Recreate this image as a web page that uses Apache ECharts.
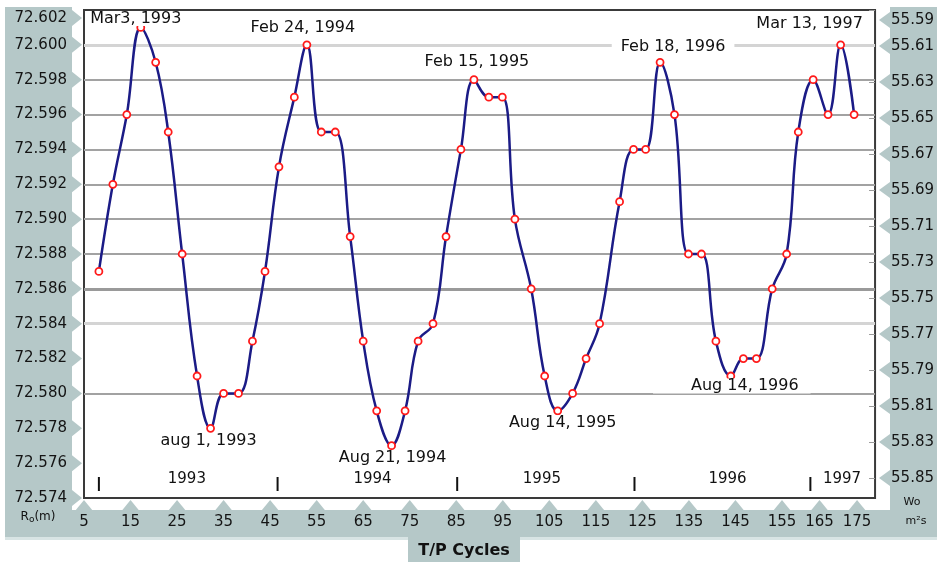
<!DOCTYPE html>
<html><head><meta charset="utf-8">
<script src="https://cdn.jsdelivr.net/npm/echarts@6/dist/echarts.min.js"></script>
<style>html,body{margin:0;padding:0;background:#fff}#c{width:937px;height:563px}</style>
</head><body><div id="c"></div>
<script>
// ---------- DATA ----------
const cycles = [8.2, 11.2, 14.2, 17.2, 20.4, 23.1, 26.1, 29.3, 32.2, 35.0, 38.2, 41.2, 43.9, 46.9, 50.2, 52.9, 56.0, 59.0, 62.2, 65.0,
  67.9, 71.1, 74.0, 76.8, 80.0, 82.8, 86.0, 88.8, 92.0, 94.9, 97.6, 101.1, 104.0, 106.8, 110.0, 112.9, 115.8, 120.1, 123.1, 125.7,
  128.8, 131.9, 134.9, 137.7, 140.8, 144.0, 146.7, 149.5, 152.9, 156.0, 158.5, 161.7, 164.9, 167.6, 170.5];
const r0 = [72.587, 72.592, 72.596, 72.601, 72.599, 72.595, 72.588, 72.581, 72.578, 72.580, 72.580, 72.583, 72.587, 72.593, 72.597, 72.600, 72.595, 72.595, 72.589, 72.583,
  72.579, 72.577, 72.579, 72.583, 72.584, 72.589, 72.594, 72.598, 72.597, 72.597, 72.590, 72.586, 72.581, 72.579, 72.580, 72.582, 72.584, 72.591, 72.594, 72.594,
  72.599, 72.596, 72.588, 72.588, 72.583, 72.581, 72.582, 72.582, 72.586, 72.588, 72.595, 72.598, 72.596, 72.600, 72.596];
const leftTicks = [72.574, 72.576, 72.578, 72.580, 72.582, 72.584, 72.586, 72.588, 72.590, 72.592, 72.594, 72.596, 72.598, 72.600, 72.602];
const rightTicks = [55.59, 55.61, 55.63, 55.65, 55.67, 55.69, 55.71, 55.73, 55.75, 55.77, 55.79, 55.81, 55.83, 55.85];
const xTicks = [5, 15, 25, 35, 45, 55, 65, 75, 85, 95, 105, 115, 125, 135, 145, 155, 165, 175];
const gridLineValues = [72.600, 72.598, 72.596, 72.594, 72.592, 72.590, 72.588, 72.586, 72.584, 72.580];
const annotTexts = ['Mar3, 1993', 'Feb 24, 1994', 'Feb 15, 1995', 'Feb 18, 1996', 'Mar 13, 1997',
  'aug 1, 1993', 'Aug 21, 1994', 'Aug 14, 1995', 'Aug 14, 1996'];
const annotAnchorIdx = [3, 15, 27, 40, 53, 8, 21, 33, 45];
const yearLabels = ['1993', '1994', '1995', '1996', '1997'];
const yearLabelCycles = [27.1, 67.0, 103.4, 143.3, 167.9];
const yearBoundCycles = [8.2, 46.6, 85.2, 123.3, 161.1];

// ---------- LAYOUT / STYLE ----------
const FF = 'DejaVu Sans';
const STRIP = '#b5c8c8';
const TXT = '#141414';
const annotLayout = [
  {offset: [-5, -9]}, {offset: [-4, -17]}, {offset: [3, -18]}, {offset: [13, -15], padding: [0, 9]}, {offset: [-31, -21]},
  {offset: [-2, 13]}, {offset: [1, 12]}, {offset: [5, 12]}, {offset: [1, 10], padding: [0, 12, 0, 38]}
];
const xLabelShift = {165: 9, 175: 18};
function gridStyle(v) {
  const k = v.toFixed(3);
  if (k === '72.600' || k === '72.584') return {color: '#d4d4d4', width: 3, type: 'solid'};
  if (k === '72.586') return {color: '#9a9a9a', width: 3, type: 'solid'};
  return {color: '#a2a2a2', width: 2, type: 'solid'};
}

const chart = echarts.init(document.getElementById('c'));
chart.setOption({
  animation: false,
  grid: {left: 84, top: 10, right: 60, bottom: 65, show: true, borderColor: '#3a3a3a', borderWidth: 2, backgroundColor: 'transparent'},
  xAxis: {
    type: 'value', min: 5, max: 175,
    axisLine: {show: false}, axisTick: {show: false}, splitLine: {show: false},
    axisLabel: {
      customValues: xTicks, margin: 17, fontFamily: FF, fontSize: 15, color: TXT,
      formatter: v => xLabelShift[v] ? '{s' + v + '|' + v + '}' : String(v),
      rich: {
        s165: {padding: [0, 18, 0, 0], fontFamily: FF, fontSize: 15, color: TXT},
        s175: {padding: [0, 36, 0, 0], fontFamily: FF, fontSize: 15, color: TXT}
      }
    }
  },
  yAxis: [{
    type: 'value', min: 72.574, max: 72.602, position: 'left',
    axisLine: {show: false}, axisTick: {show: false}, splitLine: {show: false},
    axisLabel: {
      customValues: leftTicks, margin: 17, fontFamily: FF, fontSize: 15, color: TXT,
      formatter: v => v > 72.6015 ? '{t|' + v.toFixed(3) + '}' : v.toFixed(3),
      rich: {t: {padding: [16, 0, 0, 0], fontFamily: FF, fontSize: 15, color: TXT}}
    }
  }, {
    type: 'value', min: 55.59, max: 55.8611, inverse: true, position: 'right',
    axisLine: {show: false}, splitLine: {show: false},
    axisTick: {show: true, inside: true, length: 6, customValues: rightTicks, lineStyle: {color: '#9a9a9a', width: 1}},
    axisLabel: {
      customValues: rightTicks, margin: 16, fontFamily: FF, fontSize: 15, color: TXT,
      formatter: v => v < 55.595 ? '{t|' + v.toFixed(2) + '}' : v.toFixed(2),
      rich: {t: {padding: [20, 0, 0, 0], fontFamily: FF, fontSize: 15, color: TXT}}
    }
  }],
  series: [{
    type: 'line', yAxisIndex: 0, z: 3,
    data: cycles.map((c, i) => [c, r0[i]]),
    smooth: 0.4, symbol: 'circle', symbolSize: 7, showAllSymbol: true,
    lineStyle: {color: '#1b1b86', width: 2.5},
    itemStyle: {color: '#ffffff', borderColor: '#ff1a1a', borderWidth: 1.8},
    emphasis: {disabled: true},
    markLine: {
      silent: true, symbol: 'none', z: 1, animation: false, precision: 4, label: {show: false},
      data: gridLineValues.map(v => ({yAxis: v, lineStyle: gridStyle(v)}))
    },
    markPoint: {
      silent: true, z: 6, symbol: 'circle', symbolSize: 0, animation: false,
      label: {show: true, position: 'inside', formatter: '{b}', fontFamily: FF, fontSize: 16, color: '#111',
        backgroundColor: '#ffffff', lineHeight: 15},
      data: annotTexts.map((t, i) => ({
        name: t,
        coord: [cycles[annotAnchorIdx[i]], r0[annotAnchorIdx[i]]],
        label: {offset: annotLayout[i].offset, padding: annotLayout[i].padding || [0, 2]}
      }))
    }
  }]
});

// ---------- DECORATION (strips, pointers, texts) ----------
const els = [];
els.push({type: 'rect', shape: {x: 5, y: 7, width: 67, height: 530}, style: {fill: STRIP}, z: 0});
els.push({type: 'rect', shape: {x: 890, y: 7, width: 47, height: 530}, style: {fill: STRIP}, z: 0});
els.push({type: 'rect', shape: {x: 5, y: 510, width: 932, height: 27}, style: {fill: STRIP}, z: 0});
els.push({type: 'rect', shape: {x: 5, y: 537, width: 932, height: 3}, style: {fill: '#d8e4e4'}, z: 0});
els.push({type: 'rect', shape: {x: 408, y: 537, width: 112, height: 25}, style: {fill: STRIP}, z: 0});
leftTicks.forEach(v => {
  const y = Math.max(chart.convertToPixel({yAxisIndex: 0}, v), 18);
  els.push({type: 'polygon', shape: {points: [[72, y - 8], [82, y], [72, y + 8]]}, style: {fill: STRIP}, z: 0});
});
rightTicks.forEach(v => {
  const y = Math.max(chart.convertToPixel({yAxisIndex: 1}, v), 20);
  els.push({type: 'polygon', shape: {points: [[890, y - 8], [879, y], [890, y + 8]]}, style: {fill: STRIP}, z: 0});
});
xTicks.forEach(v => {
  const x = chart.convertToPixel({xAxisIndex: 0}, v) - (xLabelShift[v] || 0);
  els.push({type: 'polygon', shape: {points: [[x - 9, 511], [x, 500], [x + 9, 511]]}, style: {fill: STRIP}, z: 0});
});
yearLabels.forEach((t, i) => {
  const x = chart.convertToPixel({xAxisIndex: 0}, yearLabelCycles[i]);
  els.push({type: 'text', x: x, y: 479, z: 10, style: {text: t, fontFamily: FF, fontSize: 15, fill: '#111', align: 'center', verticalAlign: 'middle'}});
});
yearBoundCycles.forEach(c => {
  const x = chart.convertToPixel({xAxisIndex: 0}, c);
  els.push({type: 'rect', z: 10, shape: {x: x - 1, y: 477, width: 2, height: 14}, style: {fill: '#111'}});
});
els.push({type: 'text', x: 464, y: 551, z: 10, style: {text: 'T/P Cycles', fontFamily: FF, fontSize: 16, fontWeight: 'bold', fill: '#111', align: 'center', verticalAlign: 'middle'}});
els.push({type: 'text', x: 38, y: 517, z: 10, style: {
  text: '{a|R}{b|o}{a|(m)}', align: 'center', verticalAlign: 'middle',
  rich: {a: {fontFamily: FF, fontSize: 12, fill: '#111'}, b: {fontFamily: FF, fontSize: 9, fill: '#111', padding: [5, 0, 0, 0]}}
}});
els.push({type: 'text', x: 912, y: 502, z: 10, style: {text: 'Wo', fontFamily: FF, fontSize: 11, fill: '#111', align: 'center', verticalAlign: 'middle'}});
els.push({type: 'text', x: 916, y: 521, z: 10, style: {text: 'm²s', fontFamily: FF, fontSize: 11, fill: '#111', align: 'center', verticalAlign: 'middle'}});
chart.setOption({graphic: els});
</script>
</body></html>
